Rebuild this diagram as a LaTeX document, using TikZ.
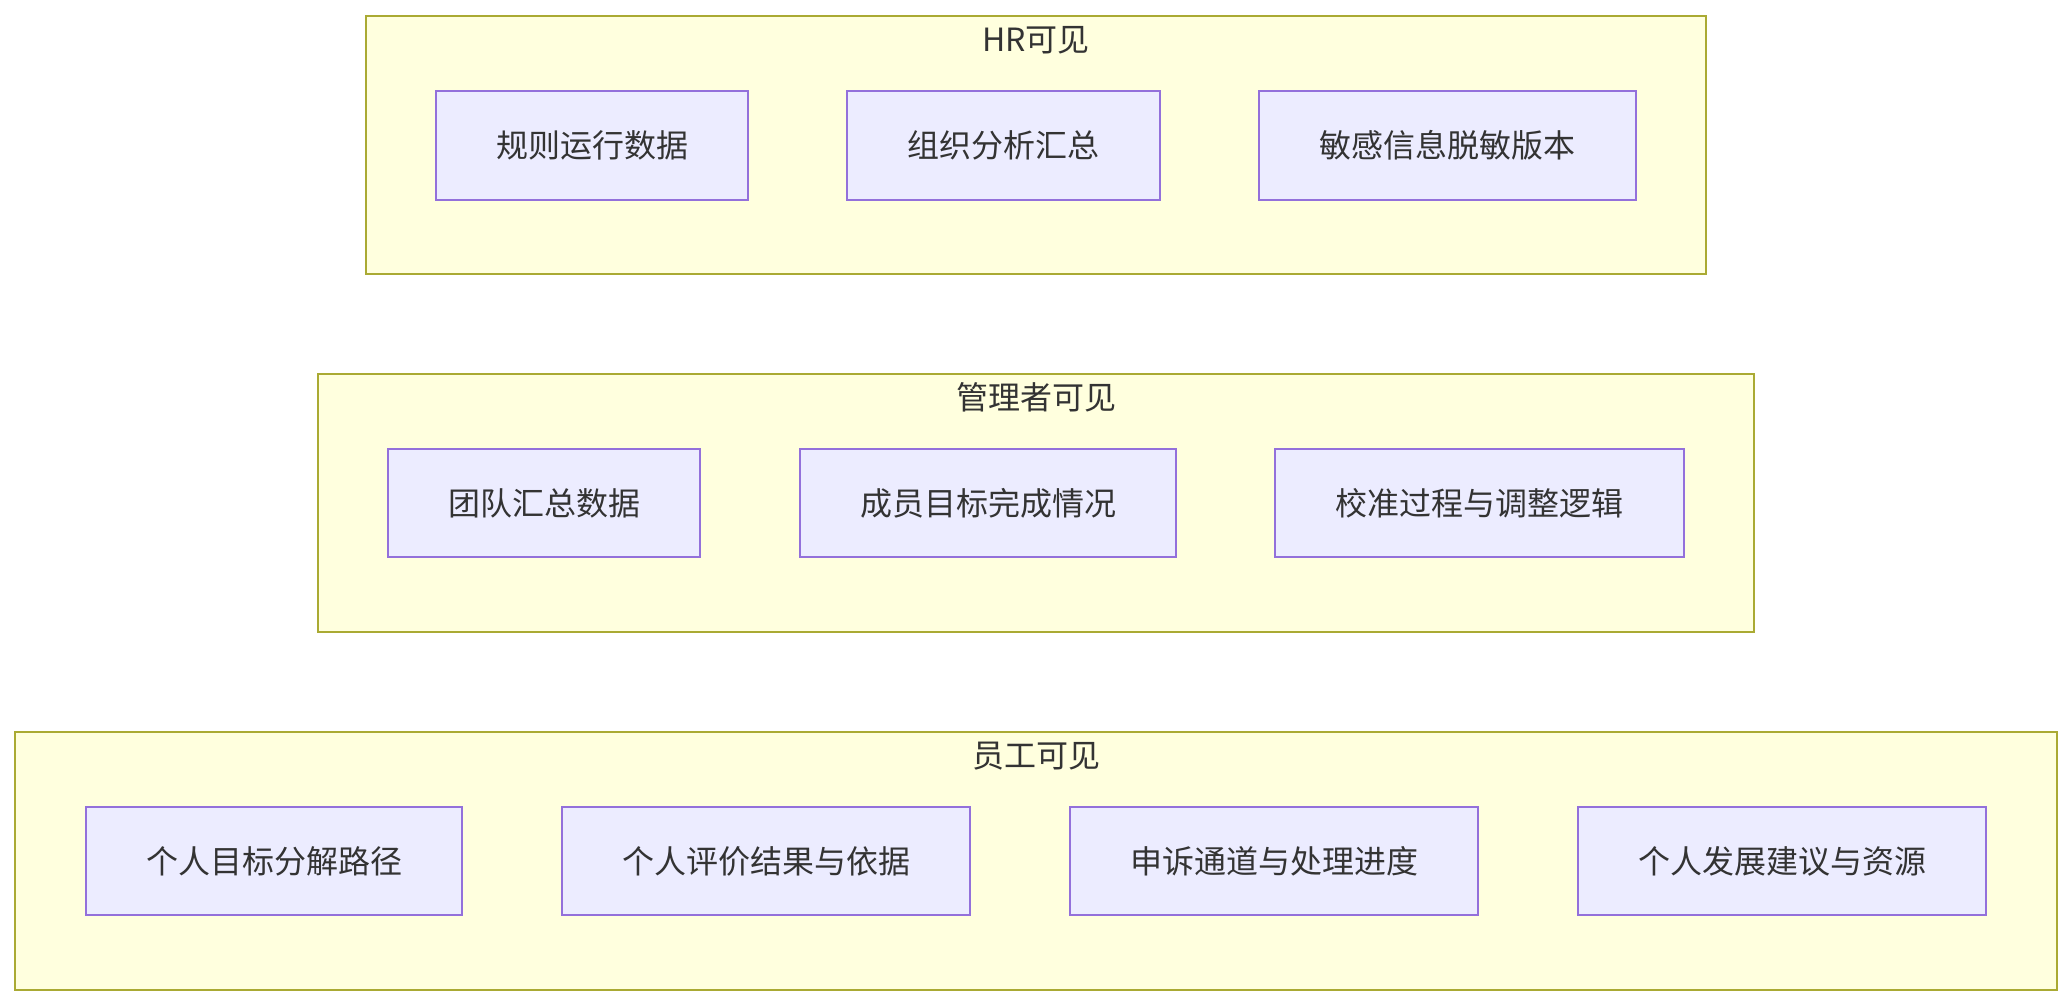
\documentclass[tikz,border=0pt]{standalone}
\usepackage{fontspec}
\setmainfont{Noto Sans CJK SC}
\begin{document}
\begin{tikzpicture}[x=1pt,y=-1pt,
  cluster/.style={draw=clusterline, fill=clusterfill, line width=2pt, inner sep=0pt, rectangle},
  itembox/.style={draw=nodeline, fill=nodefill, line width=2pt, inner sep=0pt, rectangle,
     text=textc, font=\fontsize{32}{38}\selectfont},
  title/.style={text=textc, font=\fontsize{32}{38}\selectfont, inner sep=0pt}]
\definecolor{clusterline}{HTML}{AAAA33}
\definecolor{clusterfill}{HTML}{FFFFDE}
\definecolor{nodeline}{HTML}{9370DB}
\definecolor{nodefill}{HTML}{ECECFF}
\definecolor{textc}{HTML}{333333}
\fill[white] (0,0) rectangle (2072,1006);
\useasboundingbox (0,0) rectangle (2072,1006);
% HR cluster
\node[cluster, minimum width=1340pt, minimum height=258pt] (hr) at (1036,145) {};
\node[title] (hrt) at (1036,40) {HR可见};
\node[itembox, minimum width=312pt, minimum height=109pt] (h1) at (592,145.5) {规则运行数据};
\node[itembox, minimum width=313pt, minimum height=109pt] (h2) at (1003.5,145.5) {组织分析汇总};
\node[itembox, minimum width=377pt, minimum height=109pt] (h3) at (1447.5,145.5) {敏感信息脱敏版本};
% Manager cluster
\node[cluster, minimum width=1436pt, minimum height=258pt] (mg) at (1036,503) {};
\node[title] (mgt) at (1036,397) {管理者可见};
\node[itembox, minimum width=312pt, minimum height=108pt] (m1) at (544,503) {团队汇总数据};
\node[itembox, minimum width=376pt, minimum height=108pt] (m2) at (988,503) {成员目标完成情况};
\node[itembox, minimum width=409pt, minimum height=108pt] (m3) at (1479.5,503) {校准过程与调整逻辑};
% Employee cluster
\node[cluster, minimum width=2042pt, minimum height=258pt] (em) at (1036,861) {};
\node[title] (emt) at (1036,756) {员工可见};
\node[itembox, minimum width=376pt, minimum height=108pt] (e1) at (274,861) {个人目标分解路径};
\node[itembox, minimum width=408pt, minimum height=108pt] (e2) at (766,861) {个人评价结果与依据};
\node[itembox, minimum width=408pt, minimum height=108pt] (e3) at (1274,861) {申诉通道与处理进度};
\node[itembox, minimum width=408pt, minimum height=108pt] (e4) at (1782,861) {个人发展建议与资源};
\end{tikzpicture}
\end{document}
